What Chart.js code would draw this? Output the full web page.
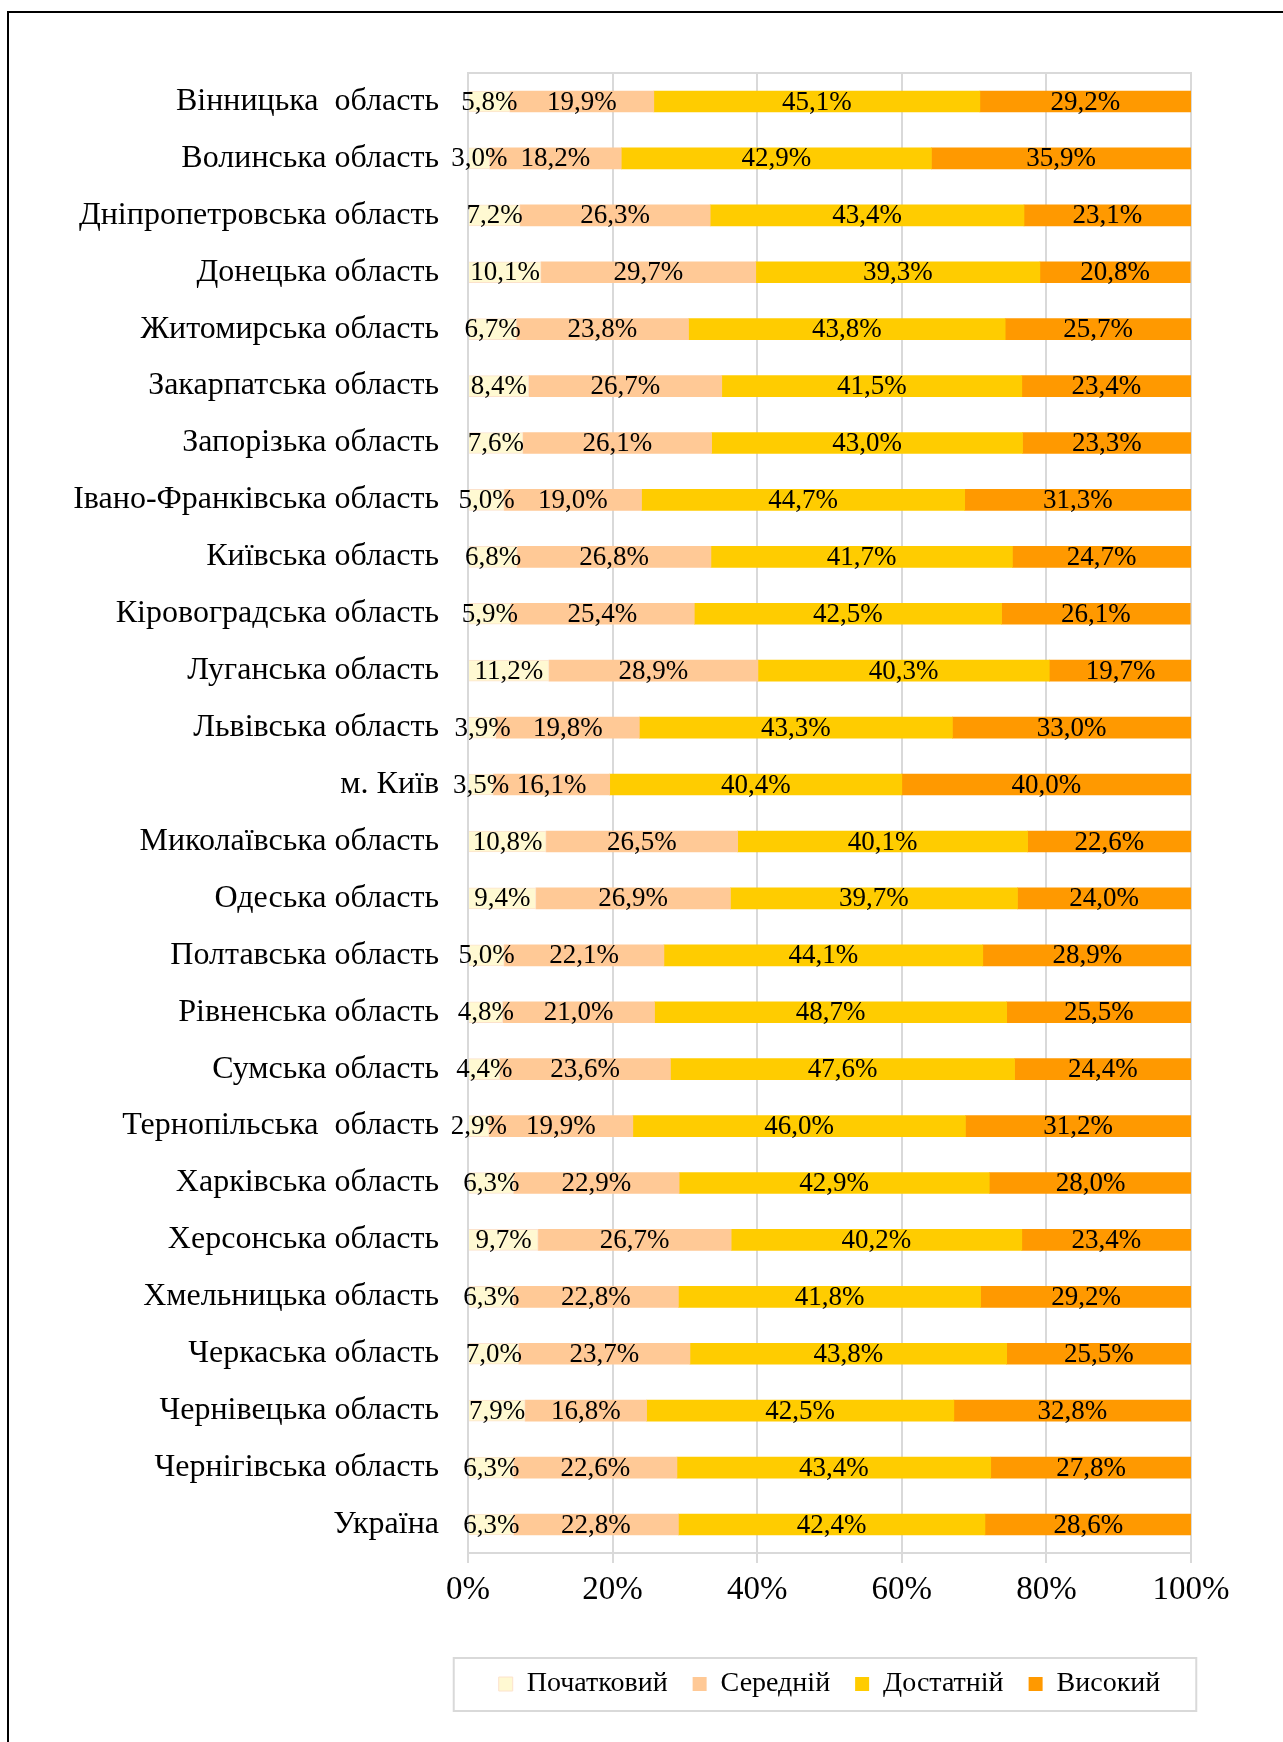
<!DOCTYPE html>
<html>
<head>
<meta charset="utf-8">
<script src="https://cdn.jsdelivr.net/npm/chart.js@4.4.0/dist/chart.umd.min.js"></script>
<style>
    html, body { margin: 0; padding: 0; background: #fff; overflow: hidden; }
    #frame { position: absolute; left: 7px; top: 11px; width: 1400px; height: 1900px; border: 2px solid #000; box-sizing: border-box; }
    #wrap { position: absolute; left: 0; top: 0; width: 1283px; height: 1742px; }
</style>
</head>
<body>
<div id="frame"></div>
<div id="wrap"><canvas id="bar-chart" width="1283" height="1742"></canvas></div>
<script>
var regions = [
    'Вінницька  область', 'Волинська область', 'Дніпропетровська область', 'Донецька область',
    'Житомирська область', 'Закарпатська область', 'Запорізька область', 'Івано-Франківська область',
    'Київська область', 'Кіровоградська область', 'Луганська область', 'Львівська область',
    'м. Київ', 'Миколаївська область', 'Одеська область', 'Полтавська область',
    'Рівненська область', 'Сумська область', 'Тернопільська  область', 'Харківська область',
    'Херсонська область', 'Хмельницька область', 'Черкаська область', 'Чернівецька область',
    'Чернігівська область', 'Україна'
]
var initial = [5.8, 3.0, 7.2, 10.1, 6.7, 8.4, 7.6, 5.0, 6.8, 5.9, 11.2, 3.9, 3.5, 10.8, 9.4, 5.0, 4.8, 4.4, 2.9, 6.3, 9.7, 6.3, 7.0, 7.9, 6.3, 6.3]
var medium = [19.9, 18.2, 26.3, 29.7, 23.8, 26.7, 26.1, 19.0, 26.8, 25.4, 28.9, 19.8, 16.1, 26.5, 26.9, 22.1, 21.0, 23.6, 19.9, 22.9, 26.7, 22.8, 23.7, 16.8, 22.6, 22.8]
var sufficient = [45.1, 42.9, 43.4, 39.3, 43.8, 41.5, 43.0, 44.7, 41.7, 42.5, 40.3, 43.3, 40.4, 40.1, 39.7, 44.1, 48.7, 47.6, 46.0, 42.9, 40.2, 41.8, 43.8, 42.5, 43.4, 42.4]
var high = [29.2, 35.9, 23.1, 20.8, 25.7, 23.4, 23.3, 31.3, 24.7, 26.1, 19.7, 33.0, 40.0, 22.6, 24.0, 28.9, 25.5, 24.4, 31.2, 28.0, 23.4, 29.2, 25.5, 32.8, 27.8, 28.6]
var levels = ['Початковий', 'Середній', 'Достатній', 'Високий']
var tickLabels = ['0%', '20%', '40%', '60%', '80%', '100%']

var serif = "'Liberation Serif', 'Times New Roman', serif"
Chart.defaults.font.family = serif
Chart.defaults.color = '#000'

// labels in the middle of every segment
var segmentLabels = {
    id: 'segmentLabels',
    afterDatasetsDraw: function (chart) {
        var ctx = chart.ctx
        ctx.save()
        ctx.font = '27px ' + serif
        ctx.fillStyle = '#000'
        ctx.textAlign = 'center'
        ctx.textBaseline = 'middle'
        chart.data.datasets.forEach(function (ds, i) {
            chart.getDatasetMeta(i).data.forEach(function (bar, j) {
                var p = bar.getProps(['x', 'y', 'base'], true)
                var txt = ds.data[j].toFixed(1).replace('.', ',') + '%'
                ctx.fillText(txt, (p.x + p.base) / 2, p.y + 1)
            })
        })
        ctx.restore()
    }
}

// grey frame round the plot and round the legend
var frames = {
    id: 'frames',
    beforeDatasetsDraw: function (chart) {
        var a = chart.chartArea
        var ctx = chart.ctx
        ctx.save()
        ctx.strokeStyle = '#D9D9D9'
        ctx.lineWidth = 2
        ctx.strokeRect(a.left, a.top, a.right - a.left, a.bottom - a.top)
        ctx.restore()
    },
    afterDraw: function (chart) {
        var boxes = chart.legend.legendHitBoxes
        if (!boxes || !boxes.length) return
        var first = boxes[0], last = boxes[boxes.length - 1]
        var cy = first.top + first.height / 2
        var ctx = chart.ctx
        ctx.save()
        ctx.strokeStyle = '#D9D9D9'
        ctx.lineWidth = 2
        ctx.strokeRect(first.left - 45, cy - 26, last.left + last.width + 36 - (first.left - 45), 53)
        ctx.restore()
    }
}

var data = {
    labels: regions,
    datasets: [
        { label: levels[0], data: initial, backgroundColor: '#FFF9D2', borderColor: '#FCE2CC', borderWidth: 1 },
        { label: levels[1], data: medium, backgroundColor: '#FFC996', borderWidth: 0 },
        { label: levels[2], data: sufficient, backgroundColor: '#FFCC00', borderWidth: 0 },
        { label: levels[3], data: high, backgroundColor: '#FF9900', borderWidth: 0 }
    ]
}

var option = {
    indexAxis: 'y',
    responsive: false,
    animation: false,
    layout: { padding: { top: 73, right: 92, bottom: 34, left: 0 } },
    datasets: { bar: { barThickness: 21 } },
    scales: {
        x: {
            stacked: true,
            min: 0,
            max: 100,
            ticks: {
                stepSize: 20,
                padding: 8,
                font: { size: 33 },
                color: '#000',
                callback: function (v, i) { return tickLabels[i] }
            },
            grid: { color: '#D9D9D9', lineWidth: 2, tickLength: 10 },
            border: { color: '#D9D9D9', width: 2 },
            afterFit: function (scale) { scale.height = 92 }
        },
        y: {
            stacked: true,
            ticks: { padding: 21, font: { size: 32 }, color: '#000', autoSkip: false },
            grid: { display: false },
            border: { display: false },
            afterFit: function (scale) { scale.width = 468 }
        }
    },
    plugins: {
        legend: {
            position: 'bottom',
            fullSize: false,
            labels: { font: { size: 28 }, color: '#000', boxWidth: 14, boxHeight: 14, padding: 25 }
        },
        tooltip: { enabled: false }
    }
}

var tempGraph = new Chart(document.getElementById('bar-chart'), {
    type: 'bar',
    data: data,
    options: option,
    plugins: [segmentLabels, frames]
})
</script>
</body>
</html>
